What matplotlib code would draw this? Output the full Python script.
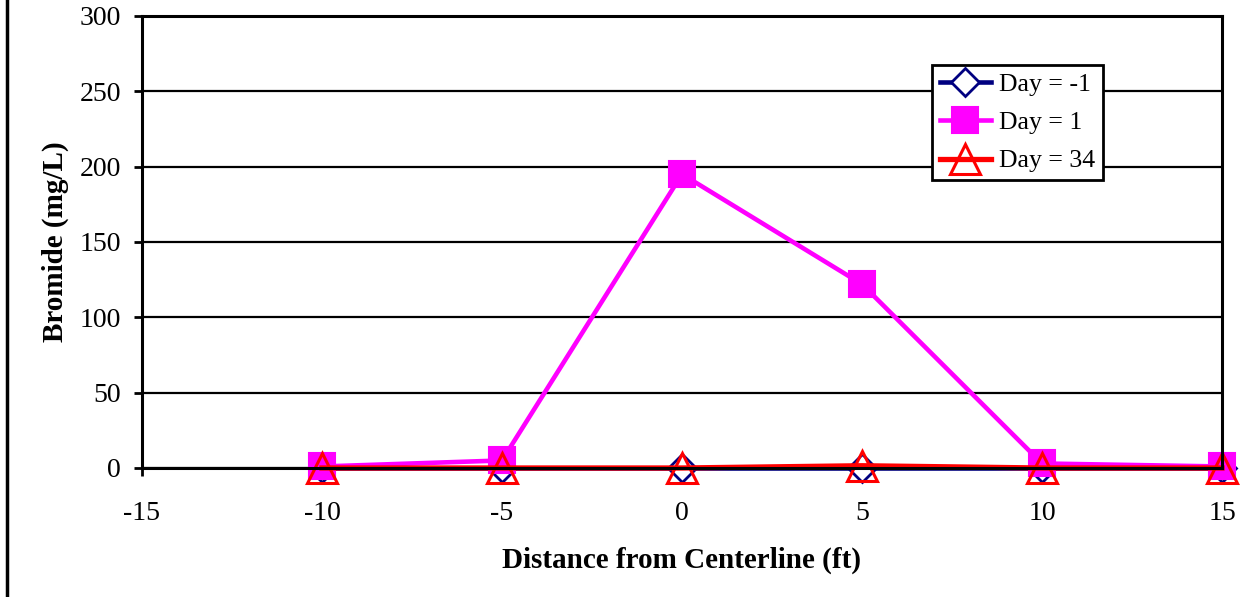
import matplotlib.pyplot as plt
from matplotlib.lines import Line2D

# distance from centerline (ft)
distance = [-10, -5, 0, 5, 10, 15]

day_m1 = [0, 0, 0, 0, 0, 0]
day_1 = [1, 5, 195, 122, 3, 1]
day_34 = [0, 0, 0, 1.5, 0, 0]

plt.rcParams['font.family'] = ['Liberation Serif', 'DejaVu Serif']
plt.rcParams['axes.unicode_minus'] = False

fig = plt.figure(figsize=(12.54, 5.97), dpi=100)
ax = fig.add_axes([0.1132, 0.2161, 0.8613, 0.7571])

ax.plot(distance, day_m1, color='#000080', lw=3.3, marker='D', ms=14,
        mfc='white', mec='#000080', mew=2, label='Day = -1', clip_on=False)
ax.plot(distance, day_1, color='#FF00FF', lw=3.3, marker='s', ms=19,
        mfc='#FF00FF', mec='#FF00FF', mew=1.5, label='Day = 1', clip_on=False)
ax.plot(distance, day_34, color='#FF0000', lw=3.8, marker='^', ms=21,
        mfc='none', mec='#FF0000', mew=2.2, label='Day = 34', clip_on=False)

ax.set_xlim(-15, 15)
ax.set_ylim(0, 300)
ax.set_xticks(range(-15, 16, 5))
ax.set_yticks(range(0, 301, 50))
ax.yaxis.grid(True, color='black', lw=1.6)
ax.set_axisbelow(True)
for s in ax.spines.values():
    s.set_linewidth(2.2)
    s.set_color('black')
ax.tick_params(axis='both', direction='out', length=6, width=2,
               labelsize=20, colors='black')
ax.tick_params(axis='x', pad=18)
ax.tick_params(axis='y', pad=9)

ax.set_xlabel('Distance from Centerline (ft)', fontsize=21, fontweight='bold', labelpad=15)
ax.set_ylabel('Bromide (mg/L)', fontsize=21, fontweight='bold', labelpad=8)

leg = ax.legend(loc='upper left', bbox_to_anchor=(0.7315, 0.8916), borderaxespad=0,
                fontsize=18.5, frameon=True, fancybox=False, edgecolor='black',
                handlelength=2.0, handletextpad=0.3, labelspacing=0.6,
                borderpad=0.3, framealpha=1)
leg.get_frame().set_linewidth(2)

# left border of the chart area
fig.add_artist(Line2D([0.0056, 0.0056], [0, 1], color='black', lw=2.5))

fig.savefig('out.png', dpi=100)
